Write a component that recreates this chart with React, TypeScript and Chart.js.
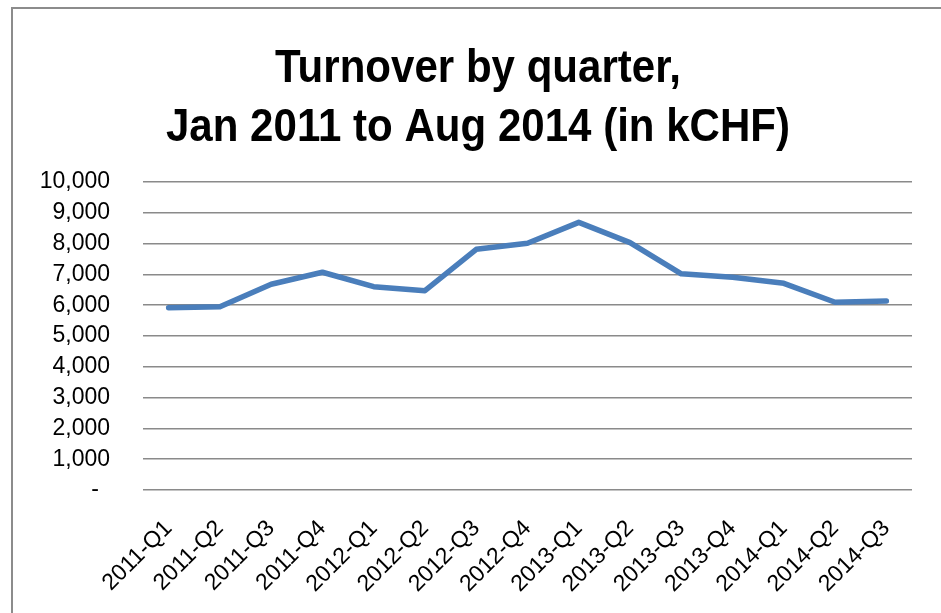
import React, { useEffect, useRef } from "react";
import { Chart, registerables } from "chart.js";

Chart.register(...registerables);

const categories = [
  "2011-Q1", "2011-Q2", "2011-Q3", "2011-Q4",
  "2012-Q1", "2012-Q2", "2012-Q3", "2012-Q4",
  "2013-Q1", "2013-Q2", "2013-Q3", "2013-Q4",
  "2014-Q1", "2014-Q2", "2014-Q3",
];
const turnover = [
  5920, 5950, 6680, 7070,
  6600, 6470, 7815, 8010,
  8690, 8030, 7020, 6905,
  6710, 6095, 6135,
];
const titleLines = ["Turnover by quarter,", "Jan 2011 to Aug 2014 (in kCHF)"];
const yMin = 0;
const yMax = 10000;
const yStep = 1000;

const FONT = "'Liberation Sans', Arial, sans-serif";

// Draws the two-line title in a slightly condensed bold face (Calibri-like).
const condensedTitle = {
  id: "condensedTitle",
  afterDraw(chart: any) {
    const ctx = chart.ctx as CanvasRenderingContext2D;
    ctx.save();
    ctx.fillStyle = "#000";
    ctx.font = `bold 47px ${FONT}`;
    ctx.textAlign = "center";
    ctx.textBaseline = "alphabetic";
    const cx = 478;
    const baselines = [82, 141];
    titleLines.forEach((line, i) => {
      ctx.save();
      ctx.translate(cx, baselines[i]);
      ctx.scale(0.895, 1);
      ctx.fillText(line, 0, 0);
      ctx.restore();
    });
    ctx.restore();
  },
};

export default function App() {
  const ref = useRef<HTMLCanvasElement | null>(null);

  useEffect(() => {
    if (!ref.current) return;
    const chart = new Chart(ref.current, {
      type: "line",
      data: {
        labels: categories,
        datasets: [
          {
            data: turnover,
            borderColor: "#4a7ebb",
            backgroundColor: "#4a7ebb",
            borderWidth: 5.5,
            pointRadius: 0,
            tension: 0,
            borderCapStyle: "round",
            borderJoinStyle: "round",
          },
        ],
      },
      plugins: [condensedTitle],
      options: {
        animation: false,
        responsive: false,
        maintainAspectRatio: false,
        layout: { padding: { left: 8, right: 29, top: 182, bottom: 0 } },
        plugins: {
          legend: { display: false },
          tooltip: { enabled: false },
          title: { display: false },
        },
        scales: {
          x: {
            offset: true,
            grid: { display: false, drawTicks: false },
            border: { display: false },
            ticks: {
              color: "#000",
              font: { family: FONT, size: 23 },
              maxRotation: 45,
              minRotation: 45,
              autoSkip: false,
              padding: 25,
            },
            afterFit: (scale: any) => {
              scale.height = 123;
            },
          },
          y: {
            min: yMin,
            max: yMax,
            grid: { color: "#8a8a8a", lineWidth: 1.5, drawTicks: false },
            border: { display: false },
            ticks: {
              stepSize: yStep,
              color: "#000",
              font: { family: FONT, size: 23 },
              padding: 33,
              callback: (v: any) => (Number(v) === 0 ? "- \u2009" : Number(v).toLocaleString("en-US")),
            },
            afterFit: (scale: any) => {
              scale.width = 135;
            },
          },
        },
      },
    });
    return () => chart.destroy();
  }, []);

  return (
    <div style={{ position: "fixed", left: 0, top: 0, width: 941, height: 613, overflow: "hidden", background: "#fff" }}>
      <div
        style={{
          position: "absolute",
          left: 11,
          top: 7,
          width: 960,
          height: 640,
          borderTop: "2px solid #8c8c8c",
          borderLeft: "2px solid #8c8c8c",
        }}
      />
      <canvas ref={ref} width={941} height={613} style={{ position: "absolute", left: 0, top: 0 }} />
    </div>
  );
}
